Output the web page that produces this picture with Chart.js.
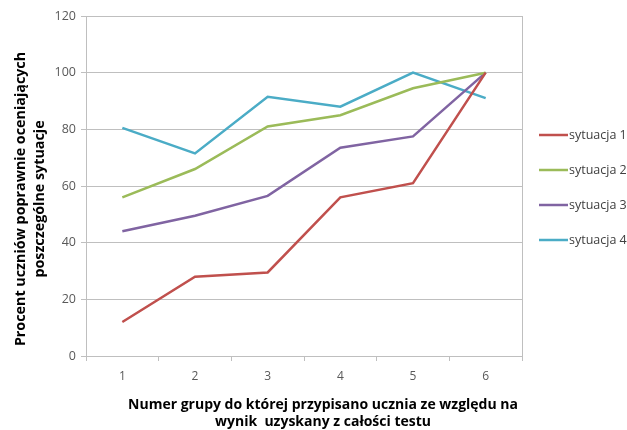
<!DOCTYPE html>
<html><head><meta charset="utf-8">
<script src="https://cdn.jsdelivr.net/npm/chart.js@4/dist/chart.umd.min.js"></script>
<style>html,body{margin:0;padding:0;background:#fff}#wrap{width:627px;height:430px}</style>
</head><body><div id="wrap"><canvas id="c" width="627" height="430"></canvas></div>
<script>
const categories = ['1','2','3','4','5','6'];
const seriesNames = ['sytuacja 1','sytuacja 2','sytuacja 3','sytuacja 4'];
const sytuacja1 = [12, 28, 29.5, 56, 61, 100];
const sytuacja2 = [56, 66, 81, 85, 94.5, 100];
const sytuacja3 = [44, 49.5, 56.5, 73.5, 77.5, 100];
const sytuacja4 = [80.5, 71.5, 91.5, 88, 100, 91];
const yTicks = [0, 20, 40, 60, 80, 100, 120];
const colors = ['#C0504D', '#9BBB59', '#8064A2', '#4BACC6'];
const yTitle = ['Procent uczniów poprawnie oceniających', 'poszczególne sytuacje'];
const xTitle = ['Numer grupy do której przypisano ucznia ze względu na', 'wynik  uzyskany z całości testu'];
const FONT = '"Open Sans", sans-serif';

const extras = {
  id: 'extras',
  afterDraw(chart) {
    const ctx = chart.ctx, a = chart.chartArea;
    ctx.save();
    // right border
    ctx.strokeStyle = '#BFBFBF'; ctx.lineWidth = 1;
    ctx.beginPath(); ctx.moveTo(Math.round(a.right)+0.5, a.top); ctx.lineTo(Math.round(a.right)+0.5, a.bottom); ctx.stroke();
    // y title
    ctx.fillStyle = '#000'; ctx.font = 'bold 14.3px ' + FONT;
    ctx.textAlign = 'center'; ctx.textBaseline = 'middle';
    ctx.save(); ctx.translate(0, 199); ctx.rotate(-Math.PI/2);
    ctx.fillText(yTitle[0], 0, 21); ctx.fillText(yTitle[1], 0, 40);
    ctx.restore();
    // x title
    ctx.font = 'bold 14px ' + FONT;
    const cx = 323;
    ctx.fillText(xTitle[0], cx, 405); ctx.fillText(xTitle[1], cx, 422);
    // legend
    ctx.font = '12.5px ' + FONT; ctx.textAlign = 'left';
    chart.data.datasets.forEach((d, i) => {
      const y = 135 + i * 35;
      ctx.strokeStyle = d.borderColor; ctx.lineWidth = 2.5;
      ctx.beginPath(); ctx.moveTo(539, y); ctx.lineTo(568, y); ctx.stroke();
      ctx.fillStyle = '#404040'; ctx.fillText(d.label, 569, y);
    });
    ctx.restore();
  }
};

new Chart(document.getElementById('c'), {
  type: 'line',
  data: {
    labels: categories,
    datasets: [sytuacja1, sytuacja2, sytuacja3, sytuacja4].map((v, i) => ({
      label: seriesNames[i], data: v, borderColor: colors[i], backgroundColor: colors[i],
      borderWidth: 2.5, pointRadius: 0, tension: 0, fill: false
    }))
  },
  options: {
    responsive: false, animation: false, devicePixelRatio: 1,
    layout: { padding: { top: 16, right: 105, left: 0, bottom: 0 } },
    plugins: { legend: { display: false }, tooltip: { enabled: false } },
    scales: {
      x: {
        offset: true,
        grid: { offset: true, drawOnChartArea: false, drawTicks: true, tickLength: 5, color: '#BFBFBF' },
        border: { color: '#BFBFBF' },
        ticks: { color: '#595959', font: { family: FONT, size: 12 }, padding: 8, maxRotation: 0 },
        afterFit(s) { s.height = 74; }
      },
      y: {
        min: 0, max: 120,
        afterBuildTicks(s) { s.ticks = yTicks.map(v => ({ value: v })); },
        grid: { color: '#BFBFBF', tickLength: 5, drawTicks: true },
        border: { color: '#BFBFBF' },
        ticks: { color: '#595959', font: { family: FONT, size: 12.5 }, padding: 5 },
        afterFit(s) { s.width = 86; }
      }
    }
  },
  plugins: [extras]
});
</script></body></html>
